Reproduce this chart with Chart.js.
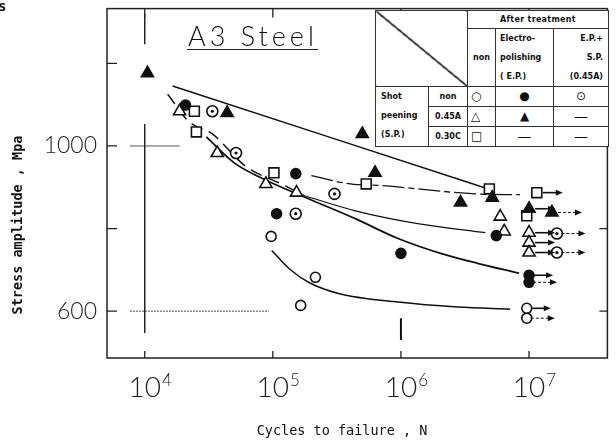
<!DOCTYPE html>
<html>
<head>
<meta charset="utf-8">
<title>A3 Steel S-N</title>
<script src="https://cdn.jsdelivr.net/npm/chart.js@4.4.0/dist/chart.umd.min.js"></script>
<style>
  html, body { margin: 0; padding: 0; background: #fff; }
  .wrap { position: relative; width: 616px; height: 445px; overflow: hidden; }
  #snChart { position: absolute; left: 0; top: 0; }

  /* treatment key in the upper right corner */
  table.key {
    position: absolute; left: 375px; top: 10px;
    border-collapse: collapse; table-layout: fixed;
    border: 1.5px solid #222; background: #fff;
    font-family: "DejaVu Sans", sans-serif; font-weight: bold; font-size: 8px;
    color: #111;
  }
  table.key td { border: 1px solid #333; padding: 0; line-height: 19px; overflow: hidden; white-space: nowrap; }
  table.key td.diag {
    background: linear-gradient(to top right, transparent calc(50% - 1px), #111 calc(50% - 0.6px),
      #111 calc(50% + 0.6px), transparent calc(50% + 1px));
  }
  table.key td.hd { text-align: center; line-height: 17px; letter-spacing: 0.3px; }
  table.key td.c { text-align: center; }
  table.key td.l { text-align: left; padding-left: 4px; }
  table.key td.r { text-align: right; padding-right: 5px; }
  table.key td.sp { vertical-align: top; text-align: left; padding-left: 5px; }
  table.key td.sym { text-align: center; font-weight: normal; font-size: 12px; }
  table.key td.sym0 { text-align: left; padding-left: 3px; font-weight: normal; font-size: 12px; }
  table.key td.dash { text-align: center; font-weight: normal; font-size: 14px; }
</style>
</head>
<body>
<div class="wrap">
  <canvas id="snChart" width="616" height="445"></canvas>
  <table class="key">
    <colgroup>
      <col style="width:53px"><col style="width:39px"><col style="width:28px"><col style="width:58px"><col style="width:55px">
    </colgroup>
    <tr style="height:18px"><td class="diag" colspan="2" rowspan="2"></td><td class="hd" colspan="3">After treatment</td></tr>
    <tr style="height:55px"><td class="c">non</td><td class="l">Electro-<br>polishing<br>( E.P.)</td><td class="r">E.P.+<br>S.P.<br>(0.45A)</td></tr>
    <tr style="height:18px"><td class="sp" rowspan="3">Shot<br>peening<br>(S.P.)</td><td class="c">non</td><td class="sym0">○</td><td class="sym">●</td><td class="sym">⊙</td></tr>
    <tr style="height:19px"><td class="c">0.45A</td><td class="sym0">△</td><td class="sym">▲</td><td class="dash">—</td></tr>
    <tr style="height:20px"><td class="c">0.30C</td><td class="sym0">□</td><td class="dash">—</td><td class="dash">—</td></tr>
  </table>
</div>

<script>
// ---- data: N = cycles to failure, S = stress amplitude (MPa)
// run flags: 0 = failure, 1 = run-out (solid arrow), 2 = run-out (dashed arrow)

const xTicks = [1e4, 1e5, 1e6, 1e7];
const yTicks = [600, 800, 1000, 1200];
const yTickLabels = ["600", "", "1000", ""];

// untreated (open circle)
const nonN = [9.7e4, 2.15e5, 1.65e5, 9.6e6, 9.6e6];
const nonS = [781, 682, 614, 607, 583];
const nonRun = [0, 0, 0, 1, 2];

// electro-polished (filled circle)
const epN = [2.08e4, 1.51e5, 1.07e5, 1.0e6, 5.55e6, 1.0e7, 1.0e7];
const epS = [1099, 933, 836, 740, 783, 687, 670];
const epRun = [0, 0, 0, 0, 0, 1, 2];

// E.P. + S.P. 0.45A (dotted circle)
const epSpN = [3.37e4, 5.16e4, 1.51e5, 3.03e5, 1.65e7, 1.65e7];
const epSpS = [1084, 983, 836, 884, 788, 742];
const epSpRun = [0, 0, 0, 0, 2, 2];

// shot peened 0.45A (open triangle)
const sp45N = [1.87e4, 3.68e4, 8.83e4, 1.53e5, 5.96e6, 6.4e6, 1.0e7, 1.0e7, 1.0e7];
const sp45S = [1084, 983, 908, 887, 829, 793, 790, 766, 742];
const sp45Run = [0, 0, 0, 0, 0, 0, 1, 1, 1];

// E.P. then shot peened 0.45A (filled triangle)
const epSp45N = [1.05e4, 4.4e4, 4.99e5, 6.28e5, 2.92e6, 5.16e6, 1.0e7, 1.51e7];
const epSp45S = [1176, 1080, 1029, 935, 863, 875, 848, 839];
const epSp45Run = [0, 0, 0, 0, 0, 0, 1, 2];

// shot peened 0.30C (open square)
const sp30N = [2.44e4, 2.53e4, 1.02e5, 5.36e5, 4.9e6, 1.15e7, 9.6e6];
const sp30S = [1084, 1034, 935, 908, 896, 887, 831];
const sp30Run = [0, 0, 0, 0, 0, 1, 0];

// hand-drawn fit curves
const fitEpSp45N = [1.65e4, 4.5e6];
const fitEpSp45S = [1145, 899];
const fitSp30N = [2.0e5, 4.03e5, 7.0e5, 3.81e6, 8.5e6];
const fitSp30S = [928, 908, 904, 884, 882];
const fitSp45FrontN = [1.51e4, 2.23e4, 3.37e4, 6.07e4, 1.24e5, 1.74e5];
const fitSp45FrontS = [1125, 1058, 1029, 952, 904, 880];
const fitSp45N = [1.74e5, 4.4e5, 1.35e6, 4.56e6];
const fitSp45S = [880, 843, 812, 790];
const fitEpN = [3.03e4, 4.99e4, 8.07e4, 1.74e5, 4.4e5, 9.5e5, 2.04e6, 3.95e6, 8.36e6];
const fitEpS = [1022, 959, 923, 877, 824, 776, 740, 716, 692];
const fitNonN = [9.8e4, 1.33e5, 1.9e5, 3.25e5, 9.5e5, 2.77e6, 7.1e6];
const fitNonS = [747, 704, 670, 643, 622, 610, 605];

// reference cross marks printed on the sheet
const markV4N = [1e4, 1e4];
const markV4S = [1053, 547];
const markTopN = [1e4, 1e4];
const markTopS = [1320, 1246];
const markH1000N = [7.66e3, 1.87e4];
const markH1000S = [1000, 1000];
const markH600N = [7.66e3, 9.3e4];
const markH600S = [600, 600];
const markV6N = [1e6, 1e6];
const markV6S = [583, 530];

const INK = "#111";
const LIGHT_FONT = "Lato, 'Open Sans', sans-serif";
const MONO_FONT = "'DejaVu Sans Mono', 'Liberation Mono', monospace";

const toPts = (xs, ys) => xs.map((x, i) => ({ x, y: ys[i] }));

function markerSet(label, xs, ys, run, style, fill, radius) {
  return {
    label,
    data: toPts(xs, ys),
    runout: run,
    showLine: false,
    pointStyle: style,
    pointRadius: radius,
    pointBackgroundColor: fill,
    pointBorderColor: INK,
    pointBorderWidth: 1.6,
    order: 1,
  };
}

function dotSet(xs, ys) {
  return {
    label: "dot",
    data: toPts(xs, ys),
    showLine: false,
    pointStyle: "circle",
    pointRadius: 1.6,
    pointBackgroundColor: INK,
    pointBorderWidth: 0,
    order: 0,
  };
}

function curveSet(label, xs, ys, dash, width) {
  return {
    label,
    data: toPts(xs, ys),
    showLine: true,
    pointRadius: 0,
    borderColor: INK,
    borderWidth: width,
    borderDash: dash,
    cubicInterpolationMode: "monotone",
    fill: false,
    order: 3,
  };
}

function markSet(xs, ys, color, width, dash) {
  return {
    label: "mark",
    data: toPts(xs, ys),
    showLine: true,
    pointRadius: 0,
    borderColor: color,
    borderWidth: width,
    borderDash: dash || [],
    order: 4,
  };
}

/**
 * Draw the run-out arrows to the right of a point
 */
function drawArrow(ctx, x0, y0, len, dashed) {
  ctx.save();
  ctx.strokeStyle = INK;
  ctx.fillStyle = INK;
  ctx.lineWidth = dashed ? 1 : 1.6;
  ctx.setLineDash(dashed ? [3, 2] : []);
  ctx.beginPath();
  ctx.moveTo(x0, y0);
  ctx.lineTo(x0 + len - 5, y0);
  ctx.stroke();
  ctx.setLineDash([]);
  ctx.beginPath();
  ctx.moveTo(x0 + len, y0);
  ctx.lineTo(x0 + len - 7, y0 - 3);
  ctx.lineTo(x0 + len - 7, y0 + 3);
  ctx.closePath();
  ctx.fill();
  ctx.restore();
}

// frame, inward ticks, labels and titles of the sheet
const paperPlot = {
  id: "paperPlot",
  beforeDatasetsDraw(chart) {
    const { ctx, chartArea, scales } = chart;
    const { left, right, top, bottom } = chartArea;
    ctx.save();

    ctx.strokeStyle = "#222";
    ctx.lineWidth = 1.5;
    ctx.strokeRect(left, top, right - left, bottom - top);

    // inward tick marks
    ctx.lineWidth = 1.3;
    ctx.beginPath();
    xTicks.forEach((v) => {
      const px = scales.x.getPixelForValue(v);
      ctx.moveTo(px, bottom);
      ctx.lineTo(px, bottom - 7);
      ctx.moveTo(px, top);
      ctx.lineTo(px, top + 9);
    });
    yTicks.forEach((v) => {
      const py = scales.y.getPixelForValue(v);
      ctx.moveTo(left, py);
      ctx.lineTo(left + 10, py);
      ctx.moveTo(right, py);
      ctx.lineTo(right - 8, py);
    });
    ctx.stroke();

    // x tick labels, 10 with a raised exponent
    ctx.fillStyle = "#222";
    xTicks.forEach((v) => {
      const px = scales.x.getPixelForValue(v);
      const exp = String(Math.round(Math.log10(v)));
      ctx.font = "300 28px " + LIGHT_FONT;
      ctx.textAlign = "center";
      ctx.textBaseline = "alphabetic";
      const w = ctx.measureText("10").width;
      ctx.fillText("10", px, 397);
      ctx.font = "300 17px " + LIGHT_FONT;
      ctx.textAlign = "left";
      ctx.fillText(exp, px + w / 2 + 1, 386);
    });

    // axis titles
    ctx.fillStyle = INK;
    ctx.font = "13.5px " + MONO_FONT;
    ctx.textAlign = "center";
    ctx.textBaseline = "middle";
    ctx.fillText("Cycles to failure , N", 342, 431);

    ctx.save();
    ctx.translate(18, 225);
    ctx.rotate(-Math.PI / 2);
    ctx.font = "bold 13.5px " + MONO_FONT;
    ctx.fillText("Stress amplitude , Mpa", 0, 0);
    ctx.restore();

    // fragment of a caption cut off at the corner
    ctx.font = "bold 14px " + MONO_FONT;
    ctx.textAlign = "left";
    ctx.textBaseline = "alphabetic";
    ctx.fillText("s", -2, 11);

    // material title
    ctx.font = "300 27px " + LIGHT_FONT;
    ctx.letterSpacing = "4px";
    ctx.textAlign = "left";
    ctx.fillText("A3 Steel", 188, 46);
    ctx.letterSpacing = "0px";
    ctx.lineWidth = 1.2;
    ctx.beginPath();
    ctx.moveTo(187, 49.5);
    ctx.lineTo(318, 49.5);
    ctx.stroke();

    ctx.restore();
  },
  afterDatasetsDraw(chart) {
    const { ctx } = chart;
    chart.data.datasets.forEach((ds, i) => {
      if (!ds.runout) return;
      const meta = chart.getDatasetMeta(i);
      ds.runout.forEach((flag, j) => {
        if (!flag) return;
        const pt = meta.data[j];
        const start = pt.x + ds.pointRadius - 1;
        drawArrow(ctx, start, pt.y, flag === 2 ? 24 : 20, flag === 2);
      });
    });
  },
};

document.addEventListener("DOMContentLoaded", () => {
  const ctx = document.getElementById("snChart");

  new Chart(ctx, {
    type: "scatter",
    data: {
      datasets: [
        dotSet(epSpN, epSpS),
        markerSet("non", nonN, nonS, nonRun, "circle", "#fff", 5),
        markerSet("E.P.", epN, epS, epRun, "circle", INK, 5),
        markerSet("E.P.+S.P.(0.45A)", epSpN, epSpS, epSpRun, "circle", "#fff", 5.5),
        markerSet("S.P. 0.45A", sp45N, sp45S, sp45Run, "triangle", "#fff", 7),
        markerSet("E.P. + S.P. 0.45A", epSp45N, epSp45S, epSp45Run, "triangle", INK, 7),
        markerSet("S.P. 0.30C", sp30N, sp30S, sp30Run, "rect", "#fff", 7),
        curveSet("fit E.P.+S.P.", fitEpSp45N, fitEpSp45S, [], 1.5),
        curveSet("fit 0.30C", fitSp30N, fitSp30S, [22, 4, 6, 4], 1.3),
        curveSet("fit 0.45A front", fitSp45FrontN, fitSp45FrontS, [12, 7], 1.5),
        curveSet("fit 0.45A", fitSp45N, fitSp45S, [], 1.2),
        curveSet("fit E.P.", fitEpN, fitEpS, [], 1.8),
        curveSet("fit non", fitNonN, fitNonS, [], 1.5),
        markSet(markV4N, markV4S, "#222", 1.5),
        markSet(markTopN, markTopS, "#222", 1.5),
        markSet(markH1000N, markH1000S, "#555", 1),
        markSet(markH600N, markH600S, "#666", 1.2, [2, 1]),
        markSet(markV6N, markV6S, "#111", 2),
      ],
    },
    options: {
      responsive: false,
      animation: false,
      events: [],
      layout: { padding: { left: 0, right: 5, top: 7, bottom: 0 } },
      plugins: {
        legend: { display: false },
        tooltip: { enabled: false },
      },
      scales: {
        x: {
          type: "logarithmic",
          min: 5075,
          max: 4.09e7,
          grid: { display: false, drawTicks: false },
          border: { display: false },
          ticks: { display: false },
          afterBuildTicks: (scale) => {
            scale.ticks = xTicks.map((v) => ({ value: v }));
          },
          afterFit: (scale) => {
            scale.height = 87;
            scale.paddingLeft = 0;
            scale.paddingRight = 0;
          },
        },
        y: {
          type: "linear",
          min: 486.7,
          max: 1332.5,
          grid: { display: false, drawTicks: false },
          border: { display: false },
          ticks: {
            padding: 10,
            color: "#222",
            font: { family: LIGHT_FONT, size: 23, weight: 300 },
            callback: (v) => yTickLabels[yTicks.indexOf(v)] || "",
          },
          afterBuildTicks: (scale) => {
            scale.ticks = yTicks.map((v) => ({ value: v }));
          },
          afterFit: (scale) => {
            scale.width = 107;
            scale.paddingTop = 0;
            scale.paddingBottom = 0;
          },
        },
      },
    },
    plugins: [paperPlot],
  });
});
</script>
</body>
</html>
